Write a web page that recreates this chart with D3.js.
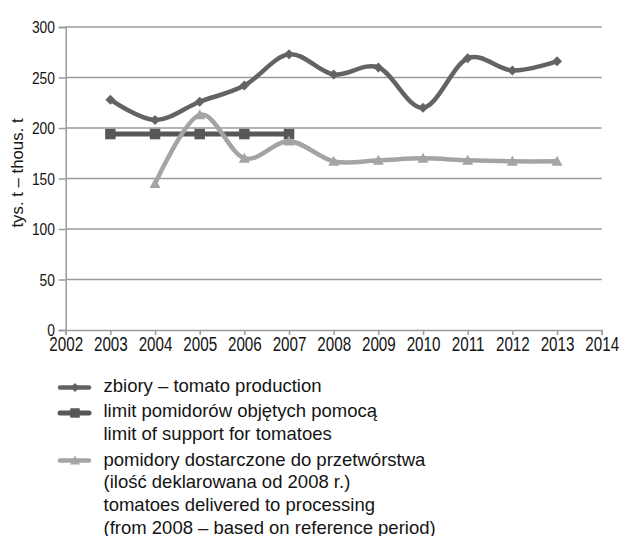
<!DOCTYPE html>
<html>
<head>
<meta charset="utf-8">
<script src="https://cdn.jsdelivr.net/npm/d3@7/dist/d3.min.js"></script>
<style>
  html, body { margin: 0; padding: 0; background: #fff; }
  svg { display: block; font-family: "Liberation Sans", Arial, sans-serif; }
</style>
</head>
<body>
<svg id="chart" width="622" height="536"></svg>
<script>
const xTicks = [2002, 2003, 2004, 2005, 2006, 2007, 2008, 2009, 2010, 2011, 2012, 2013, 2014];
const yTicks = [0, 50, 100, 150, 200, 250, 300];

const productionYears = [2003, 2004, 2005, 2006, 2007, 2008, 2009, 2010, 2011, 2012, 2013];
const productionValues = [228, 208, 226, 242, 273, 253, 260, 220, 269, 257, 266];

const limitYears = [2003, 2004, 2005, 2006, 2007];
const limitValues = [194, 194, 194, 194, 194];

const deliveredYears = [2004, 2005, 2006, 2007, 2008, 2009, 2010, 2011, 2012, 2013];
const deliveredValues = [145, 213, 170, 187, 167, 168, 170, 168, 167, 167];

const legendLabels = [
  ["zbiory – tomato production"],
  ["limit pomidorów objętych pomocą", "limit of support for tomatoes"],
  ["pomidory dostarczone do przetwórstwa", "(ilość deklarowana od 2008 r.)", "tomatoes delivered to processing", "(from 2008 – based on reference period)"]
];
const yAxisTitle = "tys. t – thous. t";

const svg = d3.select("#chart");
const plotLeft = 65.7, plotRight = 601.7, plotTop = 27, plotBottom = 330;
const x = d3.scaleLinear().domain([2002, 2014]).range([plotLeft, plotRight]);
const y = d3.scaleLinear().domain([0, 300]).range([plotBottom, plotTop]);

const gridColor = "#9a9a9a";
const textColor = "#141414";

// gridlines
svg.append("g").selectAll("line").data(yTicks.filter(d => d > 0)).join("line")
  .attr("x1", plotLeft).attr("x2", plotRight)
  .attr("y1", d => y(d)).attr("y2", d => y(d))
  .attr("stroke", gridColor).attr("stroke-width", 1.5);

// y axis
const ySx = 0.84;
const yAxis = svg.append("g").attr("transform", `translate(${plotLeft},0)`)
  .call(d3.axisLeft(y).tickValues(yTicks).tickSize(7).tickPadding(3));
yAxis.select(".domain").attr("stroke", gridColor).attr("stroke-width", 1.5);
yAxis.selectAll(".tick line").attr("stroke", gridColor).attr("stroke-width", 1.5);
yAxis.selectAll(".tick text").attr("font-size", 16.5).attr("fill", textColor)
  .attr("font-family", "Liberation Sans, Arial, sans-serif")
  .attr("transform", `scale(${ySx},1)`).attr("x", -10.7 / ySx).attr("dy", "0.35em");

// x axis
const xSx = 0.78;
const xAxis = svg.append("g").attr("transform", `translate(0,${plotBottom})`)
  .call(d3.axisBottom(x).tickValues(xTicks).tickFormat(d3.format("d")).tickSize(5).tickPadding(2));
xAxis.select(".domain").attr("stroke", gridColor).attr("stroke-width", 1.5);
xAxis.selectAll(".tick line").attr("stroke", gridColor).attr("stroke-width", 1.5);
xAxis.selectAll(".tick text").attr("font-size", 19.5).attr("fill", textColor)
  .attr("font-family", "Liberation Sans, Arial, sans-serif")
  .attr("transform", `scale(${xSx},1)`).attr("y", 21.5).attr("dy", 0);

// y title
svg.append("text")
  .attr("transform", `translate(22.5,173) rotate(-90)`)
  .attr("text-anchor", "middle")
  .attr("font-size", 16.8).attr("fill", textColor)
  .text(yAxisTitle);

const smoothLine = d3.line().x(d => x(d[0])).y(d => y(d[1])).curve(d3.curveCardinal.tension(0));
const straightLine = d3.line().x(d => x(d[0])).y(d => y(d[1]));

const series = [
  { years: productionYears, values: productionValues, color: "#636363", width: 4.5, marker: "diamond", size: 10, curve: true },
  { years: limitYears, values: limitValues, color: "#575757", width: 5, marker: "square", size: 10.5, curve: false },
  { years: deliveredYears, values: deliveredValues, color: "#a4a4a4", width: 4.5, marker: "triangle", size: 11, curve: true }
];

function markerPath(type, s) {
  const h = s / 2;
  if (type === "diamond") return `M0,${-h}L${h},0L0,${h}L${-h},0Z`;
  if (type === "square") return `M${-h},${-h}H${h}V${h}H${-h}Z`;
  return `M0,${-h}L${h},${h * 0.8}L${-h},${h * 0.8}Z`;
}

series.forEach(s => {
  const pts = s.years.map((yr, i) => [yr, s.values[i]]);
  const g = svg.append("g");
  g.append("path")
    .attr("d", s.curve ? smoothLine(pts) : straightLine(pts))
    .attr("fill", "none").attr("stroke", s.color).attr("stroke-width", s.width)
    .attr("stroke-linejoin", "round").attr("stroke-linecap", "round");
  g.selectAll("path.m").data(pts).join("path").attr("class", "m")
    .attr("transform", d => `translate(${x(d[0])},${y(d[1])})`)
    .attr("d", markerPath(s.marker, s.size))
    .attr("fill", s.color);
});

// legend
const legendSampleY = [387.5, 413, 460.5];
const legendBaselines = [[392], [417, 440], [465.5, 488, 511, 533.5]];
series.forEach((s, i) => {
  const g = svg.append("g");
  g.append("line").attr("x1", 60).attr("x2", 89)
    .attr("y1", legendSampleY[i]).attr("y2", legendSampleY[i])
    .attr("stroke", s.color).attr("stroke-width", s.width).attr("stroke-linecap", "round");
  g.append("path").attr("transform", `translate(75,${legendSampleY[i]})`)
    .attr("d", markerPath(s.marker, s.size * 0.9)).attr("fill", s.color);
  legendLabels[i].forEach((t, j) => {
    g.append("text").attr("x", 103.5).attr("y", legendBaselines[i][j])
      .attr("font-size", 18.5).attr("fill", textColor).text(t);
  });
});
</script>
</body>
</html>
